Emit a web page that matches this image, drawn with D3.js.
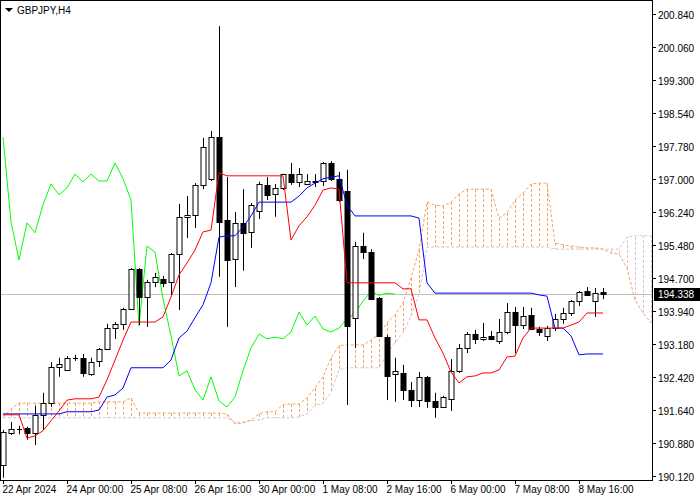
<!DOCTYPE html>
<html><head><meta charset="utf-8">
<script src="https://cdn.jsdelivr.net/npm/d3@7"></script>
<style>body{margin:0;background:#fff}svg{display:block}text{font-family:"Liberation Sans",Arial,sans-serif;font-size:10px}</style>
</head><body>
<svg id="c" width="700" height="500"></svg>
<script>
const symbol = "GBPJPY,H4";
const lastPrice = 194.338;
const open  = [190.38,191.12,191.20,191.23,191.12,191.54,191.81,192.65,192.58,192.85,192.86,192.49,192.79,193.07,193.55,193.65,193.99,194.92,194.27,194.62,194.69,194.62,195.27,196.13,196.17,196.87,197.01,197.98,196.06,195.15,195.99,195.78,196.27,196.87,196.66,196.80,197.12,196.94,196.89,196.94,196.96,197.38,197.01,196.73,193.79,195.45,195.31,194.25,193.34,192.49,192.51,192.12,191.88,192.42,191.86,191.72,191.91,192.56,193.09,193.41,193.30,193.37,193.25,193.46,193.92,193.62,193.86,193.53,193.37,193.55,193.76,193.90,194.18,194.41,194.18,194.39];
const high  = [191.19,191.37,191.28,191.26,191.75,192.05,192.76,192.86,192.90,192.93,192.95,192.86,193.09,193.65,193.69,194.02,194.94,194.94,194.67,194.83,194.76,195.29,196.43,196.61,196.91,197.96,198.12,200.55,197.05,196.24,196.77,196.45,196.94,197.05,196.89,197.13,197.38,197.26,197.12,197.12,197.40,197.42,197.17,197.22,195.55,195.76,195.38,194.27,193.39,192.86,192.70,192.30,192.53,192.44,192.05,191.98,192.83,193.18,193.46,193.51,193.67,193.48,193.76,194.13,194.04,194.04,194.02,193.58,193.60,193.88,194.02,194.20,194.41,194.50,194.48,194.48];
const low   = [190.08,191.07,191.09,190.96,190.84,191.19,191.72,192.42,192.58,192.79,192.42,192.44,192.65,193.04,193.30,193.51,193.97,193.62,193.58,194.50,194.50,194.32,193.97,195.64,195.87,196.77,196.96,194.74,193.58,194.50,194.88,195.41,196.08,196.52,196.13,196.75,196.87,196.82,196.87,196.82,196.84,196.96,196.47,191.77,193.09,195.15,194.20,193.34,191.88,191.84,191.88,191.72,191.72,191.70,191.47,191.70,191.63,192.51,192.97,193.18,193.25,193.27,193.18,193.41,192.97,193.53,193.51,193.37,193.25,193.48,193.65,193.83,194.06,194.30,193.81,194.22];
const close = [191.14,191.21,191.21,191.12,191.54,191.81,192.65,192.72,192.86,192.86,192.51,192.76,193.07,193.55,193.65,193.99,194.92,194.27,194.62,194.74,194.60,195.27,196.13,196.17,196.87,197.75,197.98,196.01,195.13,195.99,195.76,196.41,196.89,196.64,196.80,197.12,196.94,197.12,196.96,196.96,197.38,197.01,196.52,193.60,195.45,195.31,194.23,193.37,192.44,192.56,192.12,191.88,192.42,191.86,191.72,191.95,192.56,193.09,193.41,193.30,193.34,193.30,193.46,193.92,193.62,193.83,193.53,193.46,193.55,193.76,193.90,194.18,194.39,194.31,194.36,194.338];
const tenkan = [191.54,191.54,191.54,191.00,191.05,191.17,191.40,191.63,191.88,191.91,191.91,191.91,191.95,192.35,192.81,193.27,193.69,193.69,193.69,193.69,193.81,194.27,194.78,195.06,195.36,195.78,195.82,197.15,197.08,197.08,197.08,197.08,197.08,197.08,197.08,197.08,195.59,195.92,196.13,196.40,196.75,196.80,196.77,194.60,194.60,194.60,194.60,194.60,194.60,194.60,194.46,194.46,193.74,193.74,193.32,192.97,192.53,192.28,192.42,192.44,192.51,192.51,192.58,192.88,192.90,193.32,193.55,193.55,193.55,193.55,193.55,193.62,193.69,193.90,193.90,193.90];
const kijun = [191.56,191.56,191.56,191.56,191.56,191.56,191.56,191.56,191.61,191.61,191.61,191.61,191.65,191.95,192.00,192.16,192.63,192.63,192.63,192.63,192.63,192.81,193.32,193.48,193.79,194.09,194.60,195.66,195.69,195.69,195.89,196.15,196.47,196.47,196.47,196.47,196.47,196.61,196.80,196.91,197.01,197.05,197.08,196.40,196.15,196.15,196.15,196.15,196.15,196.15,196.15,196.15,196.10,194.60,194.36,194.36,194.36,194.36,194.36,194.36,194.36,194.36,194.36,194.36,194.36,194.36,194.36,194.32,194.29,193.55,193.55,193.37,192.93,192.95,192.95,192.95];
const spanA = [191.49,191.68,191.81,191.81,191.81,191.81,191.81,191.81,191.81,191.81,191.81,191.81,191.84,191.84,191.84,191.84,191.93,191.58,191.58,191.58,191.58,191.58,191.58,191.58,191.58,191.58,191.58,191.58,191.56,191.33,191.35,191.42,191.56,191.61,191.61,191.77,191.79,191.79,191.93,192.16,192.42,192.86,193.14,193.16,193.16,193.16,193.27,193.41,193.67,193.86,194.13,194.71,195.36,196.47,196.40,196.38,196.47,196.66,196.77,196.77,196.77,196.77,196.10,196.22,196.52,196.68,196.89,196.91,196.91,195.52,195.48,195.45,195.43,195.41,195.41,195.38,195.29,195.27,194.94,194.20,193.90,193.67];
const spanB = [191.47,191.47,191.47,191.47,191.47,191.47,191.47,191.47,191.47,191.47,191.47,191.47,191.47,191.47,191.47,191.47,191.47,191.47,191.47,191.47,191.47,191.47,191.47,191.47,191.47,191.47,191.47,191.47,191.47,191.37,191.37,191.40,191.42,191.47,191.47,191.47,191.47,191.49,191.56,191.75,191.81,192.05,192.58,192.63,192.63,192.63,192.63,192.63,192.95,193.21,193.44,193.83,194.32,195.43,195.43,195.43,195.43,195.43,195.43,195.43,195.43,195.43,195.43,195.43,195.43,195.43,195.43,195.43,195.43,195.38,195.38,195.38,195.38,195.38,195.38,195.38,195.38,195.38,195.66,195.69,195.69,195.69];
const chikouShift = 26;
const priceTicks = [200.840,200.060,199.300,198.540,197.780,197.000,196.240,195.480,194.700,193.940,193.180,192.420,191.640,190.880,190.120];
const timeLabels = ["22 Apr 2024","24 Apr 00:00","25 Apr 08:00","26 Apr 16:00","30 Apr 00:00","1 May 08:00","2 May 16:00","6 May 00:00","7 May 08:00","8 May 16:00"];
const timeLabelStep = 8;

const svg = d3.select("#c");
const W = 652, H = 480;
const x = d3.scaleLinear().domain([0, 81]).range([3, 651]);
const y = d3.scaleLinear().domain([190.028, 201.156]).range([H, 0]);

svg.append("clipPath").attr("id","clip").append("rect").attr("x",1).attr("y",1).attr("width",W-1).attr("height",H-1);
const g = svg.append("g").attr("clip-path","url(#clip)");

g.append("line").attr("x1",0).attr("x2",W).attr("y1",Math.round(y(lastPrice))+0.5).attr("y2",Math.round(y(lastPrice))+0.5).attr("stroke","#c0c0c0");

spanA.forEach((a,i)=>{
  const b = spanB[i];
  const xi = Math.round(x(i))+0.5;
  g.append("line").attr("x1",xi).attr("x2",xi).attr("y1",y(a)).attr("y2",y(b))
   .attr("stroke", a>=b ? "#f4a460" : "#d8bfd8").attr("stroke-dasharray","3,2");
});
const ln = arr => d3.line().x((d,i)=>x(i)).y(d=>y(d))(arr);
g.append("path").attr("d",ln(spanB)).attr("fill","none").attr("stroke","#d8bfd8").attr("stroke-dasharray","3,2");
g.append("path").attr("d",ln(spanA)).attr("fill","none").attr("stroke","#f4a460").attr("stroke-dasharray","3,2");

const chikou = close.slice(chikouShift);
g.append("path").attr("d",ln(chikou)).attr("fill","none").attr("stroke","#00ff00");

close.forEach((c,i)=>{
  const xi = Math.round(x(i))+0.5;
  g.append("line").attr("x1",xi).attr("x2",xi).attr("y1",y(high[i])).attr("y2",y(low[i])).attr("stroke","#000");
  const top = Math.round(y(Math.max(open[i],c))), bot = Math.round(y(Math.min(open[i],c)));
  if (bot - top < 1) {
    g.append("line").attr("x1",xi-2.5).attr("x2",xi+2.5).attr("y1",top+0.5).attr("y2",top+0.5).attr("stroke","#000");
  } else {
    g.append("rect").attr("x",xi-2.5).attr("y",top+0.5).attr("width",5).attr("height",bot-top)
     .attr("fill", c>=open[i] ? "#fff" : "#000").attr("stroke","#000");
  }
});

g.append("path").attr("d",ln(kijun)).attr("fill","none").attr("stroke","#0000ff");
g.append("path").attr("d",ln(tenkan)).attr("fill","none").attr("stroke","#ff0000");

svg.append("rect").attr("x",0.5).attr("y",0.5).attr("width",W).attr("height",H).attr("fill","none").attr("stroke","#000");

priceTicks.forEach(p=>{
  const yy = Math.round(y(p))+0.5;
  svg.append("line").attr("x1",W).attr("x2",W+4).attr("y1",yy).attr("y2",yy).attr("stroke","#000");
  svg.append("text").attr("x",W+6).attr("y",yy+4).text(p.toFixed(3));
});
const ly = Math.round(y(lastPrice));
svg.append("rect").attr("x",W+2).attr("y",ly-6).attr("width",46).attr("height",13).attr("fill","#000");
svg.append("text").attr("x",W+6).attr("y",ly+4).attr("fill","#fff").text(lastPrice.toFixed(3));

timeLabels.forEach((t,k)=>{
  const xx = Math.round(x(k*timeLabelStep))+0.5;
  svg.append("line").attr("x1",xx).attr("x2",xx).attr("y1",H).attr("y2",H+4).attr("stroke","#000");
  svg.append("text").attr("x",xx-1).attr("y",H+13).text(t);
});

svg.append("path").attr("d","M5,8 L13,8 L9,12 Z").attr("fill","#000");
svg.append("text").attr("x",17).attr("y",14).text(symbol);
</script>
</body></html>
